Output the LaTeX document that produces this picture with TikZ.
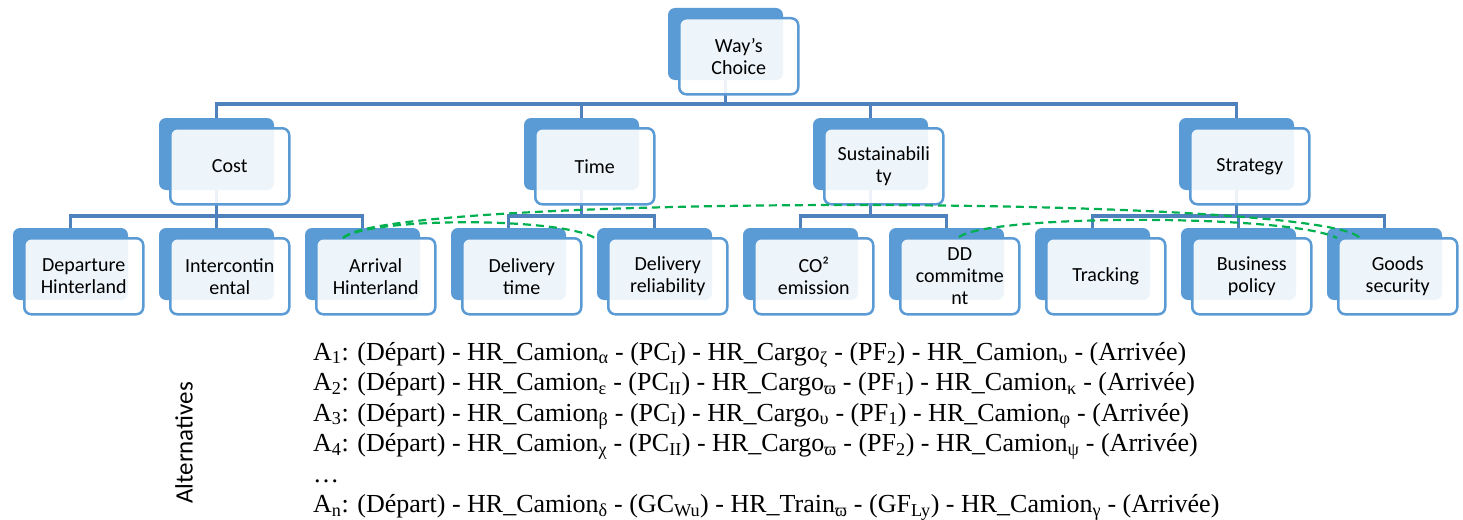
\documentclass[tikz,border=0pt]{standalone}
\usepackage{fontspec}
\newfontfamily\carlitofont{Carlito}
\newfontfamily\timesfont{Liberation Serif}
\newcommand{\boxtext}{\carlitofont\fontsize{20}{22}\selectfont}
\newcommand{\alttext}{\timesfont\fontsize{26}{30}\selectfont}
\usetikzlibrary{calc,backgrounds}
\definecolor{boxblue}{HTML}{5B9BD5}
\definecolor{linkblue}{HTML}{4F81BD}
\definecolor{arcgreen}{HTML}{00B050}
\begin{document}
\begin{tikzpicture}[x=1pt,y=-1pt,
  backbox/.style={fill=boxblue, rounded corners=7pt, minimum width=115pt, minimum height=72pt, anchor=north west, inner sep=0pt, outer sep=0pt},
  frontbox/.style={draw=boxblue, line width=2.5pt, fill=white, fill opacity=0.9, text opacity=1, rounded corners=7pt, minimum width=119pt, minimum height=76pt, anchor=north west, inner sep=0pt, align=center, font=\boxtext, text=black},
  link/.style={draw=linkblue, line width=3.5pt},
  arcline/.style={draw=arcgreen, line width=2.2pt, dash pattern=on 8pt off 5pt},
  altline/.style={anchor=base west, inner sep=0pt, font=\alttext}]
\useasboundingbox (0,0) rectangle (1463,519);

% top
\node[backbox] (top-b) at (668,8) {};
\node[frontbox] (top) at (678,17) {Way’s\\Choice};
% level 1
\node[backbox] (cost-b) at (159,118) {};
\node[frontbox] (cost) at (169,127) {Cost};
\node[backbox] (time-b) at (524,118) {};
\node[frontbox] (time) at (534,127) {Time};
\node[backbox] (sus-b) at (813,118) {};
\node[frontbox] (sus) at (823,127) {Sustainabili\\ty};
\node[backbox] (strat-b) at (1179,118) {};
\node[frontbox] (strat) at (1189,127) {Strategy};
% leaves
\node[backbox] (dep-b) at (13,228) {};
\node[frontbox] (dep) at (23,237) {Departure\\Hinterland};
\node[backbox] (inter-b) at (159,228) {};
\node[frontbox] (inter) at (169,237) {Intercontin\\ental};
\node[backbox] (arr-b) at (305,228) {};
\node[frontbox] (arr) at (315,237) {Arrival\\Hinterland};
\node[backbox] (dtime-b) at (451,228) {};
\node[frontbox] (dtime) at (461,237) {Delivery\\time};
\node[backbox] (drel-b) at (597,228) {};
\node[frontbox] (drel) at (607,237) {Delivery\\reliability};
\node[backbox] (co2-b) at (743,228) {};
\node[frontbox] (co2) at (753,237) {CO²\\emission};
\node[backbox] (dd-b) at (889,228) {};
\node[frontbox] (dd) at (899,237) {DD\\commitme\\nt};
\node[backbox] (track-b) at (1035,228) {};
\node[frontbox] (track) at (1045,237) {Tracking};
\node[backbox] (bus-b) at (1181,228) {};
\node[frontbox] (bus) at (1191,237) {Business\\policy};
\node[backbox] (goods-b) at (1327,228) {};
\node[frontbox] (goods) at (1337,237) {Goods\\security};

% connectors behind the boxes
\begin{scope}[on background layer]
  \fill[white] (0,0) rectangle (1463,519);
  \coordinate (bar0) at (0,104);
  \coordinate (bar1) at (0,216);
  \foreach \c in {cost,time,sus,strat}
    \draw[link] (top-b.center) -- (top-b.center |- bar0) -| (\c-b.center);
  \foreach \p/\c in {cost/dep,cost/inter,cost/arr,time/dtime,time/drel,sus/co2,sus/dd,strat/track,strat/bus,strat/goods}
    \draw[link] (\p-b.center) -- (\p-b.center |- bar1) -| (\c-b.center);
\end{scope}

% green dashed arcs
\draw[arcline] ($(arr.north west)+(28,1)$) .. controls +(37,-44) and +(-40,-44) .. ($(goods.north west)+(23,1)$);
\draw[arcline] ($(arr.north west)+(28,1)$) .. controls +(27,-21) and +(-35,-21) .. ($(drel-b.north west)+(-2,10)$);
\draw[arcline] ($(dd.north west)+(60,0)$) .. controls +(31,-23) and +(-47,-24) .. ($(goods.north west)+(0,1)$);

% alternatives
\node[rotate=90, inner sep=0pt, font=\carlitofont\fontsize{25}{28}\selectfont] (altlabel) at (184,443) {Alternatives};
\node[altline] (a1) at (313,360) {A\textsubscript{1}: (Départ) - HR\_Camion\textsubscript{α} - (PC\textsubscript{I}) - HR\_Cargo\textsubscript{ζ} - (PF\textsubscript{2}) - HR\_Camion\textsubscript{υ} - (Arrivée)};
\node[altline] (a2) at (313,390.5) {A\textsubscript{2}: (Départ) - HR\_Camion\textsubscript{ε} - (PC\textsubscript{II}) - HR\_Cargo\textsubscript{ϖ} - (PF\textsubscript{1}) - HR\_Camion\textsubscript{κ} - (Arrivée)};
\node[altline] (a3) at (313,421) {A\textsubscript{3}: (Départ) - HR\_Camion\textsubscript{β} - (PC\textsubscript{I}) - HR\_Cargo\textsubscript{υ} - (PF\textsubscript{1}) - HR\_Camion\textsubscript{φ} - (Arrivée)};
\node[altline] (a4) at (313,451.5) {A\textsubscript{4}: (Départ) - HR\_Camion\textsubscript{χ} - (PC\textsubscript{II}) - HR\_Cargo\textsubscript{ϖ} - (PF\textsubscript{2}) - HR\_Camion\textsubscript{ψ} - (Arrivée)};
\node[altline] (dots) at (313,482) {…};
\node[altline] (an) at (313,512.5) {A\textsubscript{n}: (Départ) - HR\_Camion\textsubscript{δ} - (GC\textsubscript{Wu}) - HR\_Train\textsubscript{ϖ} - (GF\textsubscript{Ly}) - HR\_Camion\textsubscript{γ} - (Arrivée)};
\end{tikzpicture}
\end{document}
